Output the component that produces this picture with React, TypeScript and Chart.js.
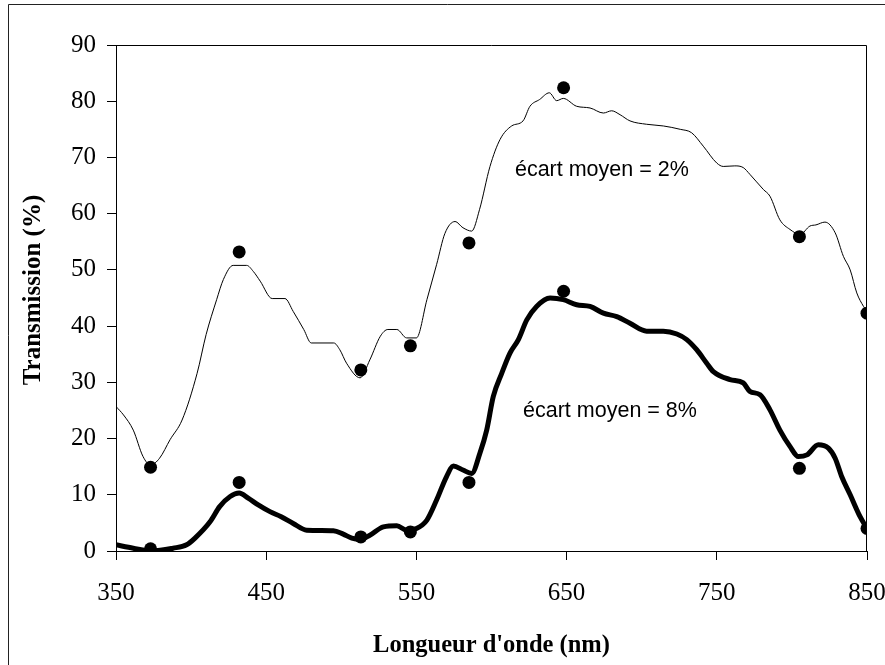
import React, { useEffect, useRef } from "react";
import { Chart, registerables } from "chart.js";

Chart.register(...registerables);

// Measured points (dots)
const dotWavelengths = [373, 432, 513, 546, 585, 648, 805, 850];
const dotsThin = [14.9, 53.2, 32.2, 36.5, 54.8, 82.4, 55.9, 42.3];
const dotsThick = [0.4, 12.2, 2.5, 3.4, 12.2, 46.2, 14.7, 4.0];

// Thin curve (écart moyen = 2%)
const thinWavelengths = [
  350, 355, 361.5, 368, 373, 379, 386, 394, 404, 410, 417, 421.5, 428, 437, 441.5, 446,
  454, 462.5, 468, 475, 480, 495, 499, 503.5, 512.5, 519, 526, 531, 537, 543.5, 550,
  557, 563.5, 569, 575.7, 581, 586.8, 592, 599, 605.7, 613.4, 621, 625.6, 632, 638.5,
  643.4, 647.8, 656.7, 665.6, 674.5, 680, 685.6, 692.2, 703.3, 714.4, 725.7, 733.2, 741, 750,
  754.3, 762, 767.6, 772, 781, 785.4, 792, 798.7, 805.4, 812, 816, 822, 828.8, 834.3, 838.8,
  843.2, 847.7, 850,
];
const thinTransmission = [
  25.7, 24.2, 21.5, 16.8, 15.3, 16.5, 19.8, 23.3, 31.6, 38.5, 44.7, 48.3, 50.8, 50.8, 49.7, 48,
  44.9, 44.9, 42.6, 39.4, 37, 37, 35.8, 33.4, 30.8, 34, 38.2, 39.4, 39.4, 37.9, 37.9,
  44.7, 51, 56.5, 58.6, 57.5, 56.9, 60.7, 68.4, 73.2, 75.6, 76.5, 79.1, 80.3, 81.5,
  80.1, 80.5, 79.1, 78.8, 77.9, 78.3, 77.6, 76.5, 75.9, 75.6, 75, 74.4, 72, 69,
  68.4, 68.5, 68.2, 67, 64.3, 63.1, 58.9, 57.2, 56.3, 57.8, 58.0, 58.5, 56.6, 52.4, 50,
  45.9, 43.5, 42.6,
];

// Thick curve (écart moyen = 8%)
const thickWavelengths = [
  350, 361.5, 374, 388, 397, 402.6, 412.6, 419, 426, 432, 438, 444.7, 452.5, 460, 468,
  477, 494.7, 501.3, 507, 512.5, 519, 528, 537, 543.5, 550, 557, 563.5, 570, 574.6,
  581, 586.8, 592.3, 596.8, 601.2, 606.8, 612.3, 617.9, 623.5, 630, 639, 647.8, 656.7,
  665.6, 674.5, 683.4, 692.2, 703.3, 714.4, 723.4, 730, 736.6, 743.3, 747.7, 758.8,
  767.6, 772, 778.8, 785.4, 792, 798.7, 804.3, 810, 817.6, 824.3, 828.8, 833.2, 838.8,
  845.4, 850,
];
const thickTransmission = [
  1.1, 0.5, 0, 0.5, 1.1, 2.3, 5.2, 7.9, 9.7, 10.3, 9.4, 8.2, 7.0, 6.1, 4.9,
  3.7, 3.6, 3.0, 2.3, 2.1, 2.8, 4.3, 4.5, 3.7, 4.0, 5.5, 9.1, 13.2, 15.1,
  14.4, 13.8, 17.4, 21.5, 27.5, 31.6, 35.2, 37.6, 41.1, 43.5, 45.0, 44.7, 43.8,
  43.5, 42.3, 41.7, 40.5, 39.1, 39.1, 38.6, 37.6, 35.8, 33.4, 31.9, 30.5,
  29.9, 28.4, 27.8, 25.1, 21.5, 18.6, 16.8, 17.1, 18.9, 18.3, 16.5, 13.2, 10.0,
  6.1, 4.0,
];

const xTitle = "Longueur d'onde (nm)";
const yTitle = "Transmission (%)";
const note2 = "écart moyen = 2%";
const note8 = "écart moyen = 8%";
// annotation anchors (data units)
const note2At = { x: 615.6, y: 66.7 };
const note8At = { x: 621.0, y: 23.8 };

const toPoints = (xs: number[], ys: number[]) => xs.map((x, i) => ({ x, y: ys[i] }));

export default function App() {
  const ref = useRef<HTMLCanvasElement | null>(null);

  useEffect(() => {
    if (!ref.current) return;

    const decor = {
      id: "decor",
      afterDraw(chart: any) {
        const { ctx, chartArea: a, scales } = chart;
        ctx.save();
        ctx.strokeStyle = "#000";
        ctx.lineWidth = 1;
        // plot box top and right
        ctx.beginPath();
        ctx.moveTo(a.left, 45.5);
        ctx.lineTo(866.5, 45.5);
        ctx.lineTo(866.5, a.bottom);
        ctx.stroke();
        // outer frame (left and top visible)
        ctx.strokeStyle = "#222";
        ctx.beginPath();
        ctx.moveTo(8.5, 700);
        ctx.lineTo(8.5, 4.5);
        ctx.lineTo(900, 4.5);
        ctx.stroke();

        ctx.fillStyle = "#000";
        // axis titles
        ctx.font = "bold 24.5px 'Liberation Serif'";
        ctx.textAlign = "center";
        ctx.textBaseline = "alphabetic";
        ctx.fillText(xTitle, (a.left + a.right) / 2, 651.5);
        ctx.save();
        ctx.translate(40, 290);
        ctx.rotate(-Math.PI / 2);
        ctx.font = "bold 25px 'Liberation Serif'";
        ctx.fillText(yTitle, 0, 0);
        ctx.restore();

        // annotations
        ctx.font = "21.5px 'Liberation Sans'";
        ctx.textAlign = "left";
        ctx.fillText(note2, scales.x.getPixelForValue(note2At.x), scales.y.getPixelForValue(note2At.y));
        ctx.fillText(note8, scales.x.getPixelForValue(note8At.x), scales.y.getPixelForValue(note8At.y));
        ctx.restore();
      },
    };

    const chart = new Chart(ref.current, {
      type: "scatter",
      data: {
        datasets: [
          {
            type: "scatter",
            data: toPoints(dotWavelengths, dotsThin),
            backgroundColor: "#000",
            borderWidth: 0,
            pointRadius: 6.5,
          },
          {
            type: "scatter",
            data: toPoints(dotWavelengths, dotsThick),
            backgroundColor: "#000",
            borderWidth: 0,
            pointRadius: 6.5,
          },
          {
            type: "line",
            data: toPoints(thinWavelengths, thinTransmission),
            borderColor: "#000",
            borderWidth: 1,
            pointRadius: 0,
            cubicInterpolationMode: "monotone",
            fill: false,
          },
          {
            type: "line",
            data: toPoints(thickWavelengths, thickTransmission),
            borderColor: "#000",
            borderWidth: 5,
            borderJoinStyle: "round",
            borderCapStyle: "round",
            pointRadius: 0,
            cubicInterpolationMode: "monotone",
            fill: false,
          },
        ],
      } as any,
      options: {
        responsive: false,
        animation: false,
        events: [],
        layout: { padding: { top: 45, right: 18, left: 0, bottom: 0 } },
        plugins: { legend: { display: false }, tooltip: { enabled: false } },
        scales: {
          x: {
            type: "linear",
            min: 350,
            max: 850,
            afterBuildTicks: (s: any) => {
              s.ticks = [350, 450, 550, 650, 750, 850].map((v) => ({ value: v }));
            },
            afterFit: (s: any) => {
              s.height = 114;
              s.paddingLeft = 0;
              s.paddingRight = 0;
            },
            grid: { drawOnChartArea: false, drawTicks: true, tickLength: 9, color: "#000", lineWidth: 1 },
            border: { display: true, color: "#000", width: 1 },
            ticks: {
              color: "#000",
              padding: 18,
              maxRotation: 0,
              font: { family: "'Liberation Serif'", size: 25 },
            },
          },
          y: {
            type: "linear",
            min: 0,
            max: 90,
            afterBuildTicks: (s: any) => {
              s.ticks = [0, 10, 20, 30, 40, 50, 60, 70, 80, 90].map((v) => ({ value: v }));
            },
            afterFit: (s: any) => {
              s.width = 116;
              s.paddingTop = 0;
              s.paddingBottom = 0;
            },
            grid: { drawOnChartArea: false, drawTicks: true, tickLength: 9, color: "#000", lineWidth: 1 },
            border: { display: true, color: "#000", width: 1 },
            ticks: {
              color: "#000",
              padding: 11,
              font: { family: "'Liberation Serif'", size: 25 },
            },
          },
        },
      } as any,
      plugins: [decor],
    });

    return () => chart.destroy();
  }, []);

  return (
    <div style={{ position: "absolute", left: 0, top: 0, width: 885, height: 665, background: "#fff" }}>
      <canvas ref={ref} width={885} height={665} style={{ display: "block" }} />
    </div>
  );
}
